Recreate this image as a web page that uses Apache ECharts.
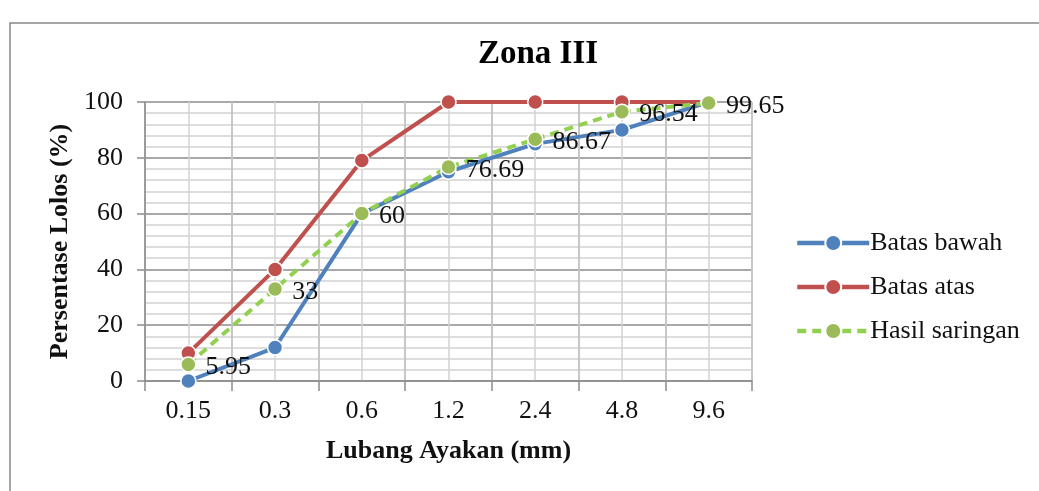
<!DOCTYPE html>
<html>
<head>
<meta charset="utf-8">
<script src="https://cdn.jsdelivr.net/npm/echarts@6/dist/echarts.min.js"></script>
<style>
  html, body { margin: 0; padding: 0; background: #fff; }
  #chart { width: 1039px; height: 491px; }
</style>
</head>
<body>
<div id="chart"></div>
<script>
// ukuran lubang ayakan (mm)
var categories = ['0.15', '0.3', '0.6', '1.2', '2.4', '4.8', '9.6'];
var batasBawah = [0, 12, 60, 75, 85, 90, 100];
var batasAtas = [10, 40, 79, 100, 100, 100, 100];
var hasilSaringan = [5.95, 33, 60, 76.69, 86.67, 96.54, 99.65];
var seriesNames = ['Batas bawah', 'Batas atas', 'Hasil saringan'];

var font = 'Liberation Serif, Times New Roman, serif';
var chart = echarts.init(document.getElementById('chart'));

function lineSeries(name, data, color, markColor, dashed) {
  return {
    name: name,
    type: 'line',
    data: data,
    symbol: 'circle',
    symbolSize: 15,
    lineStyle: { color: color, width: 4, type: dashed ? [9, 6] : 'solid' },
    itemStyle: { color: markColor, borderColor: '#fff', borderWidth: 1.5 },
    emphasis: { disabled: true }
  };
}

var s3 = lineSeries(seriesNames[2], hasilSaringan, '#92D050', '#9BBB59', true);
s3.label = {
  show: true,
  position: 'right',
  distance: 9,
  color: '#111',
  fontFamily: font,
  fontSize: 26,
  offset: [0, 3]
};

var option = {
  backgroundColor: '#fff',
  animation: false,
  graphic: [{
    type: 'polyline',
    shape: { points: [[1039, 23], [10, 23], [10, 491]] },
    style: { stroke: '#888', lineWidth: 1.5, fill: null },
    silent: true
  }],
  title: {
    text: 'Zona III',
    left: 533,
    textAlign: 'center',
    top: 33,
    textStyle: { fontFamily: font, fontSize: 33, fontWeight: 'bold', color: '#000' }
  },
  legend: {
    orient: 'vertical',
    left: 790,
    top: 225,
    itemGap: 18,
    itemWidth: 72,
    itemHeight: 20,
    data: seriesNames,
    lineStyle: { width: 4.5 },
    textStyle: { fontFamily: font, fontSize: 26, color: '#111', padding: [0, 0, 0, -4] }
  },
  grid: { left: 145, right: 287, top: 102, bottom: 110, containLabel: false },
  xAxis: [{
    type: 'category',
    data: categories,
    boundaryGap: true,
    name: 'Lubang Ayakan (mm)',
    nameLocation: 'middle',
    nameGap: 57,
    nameTextStyle: { fontFamily: font, fontSize: 26, fontWeight: 'bold', color: '#111' },
    axisLine: { lineStyle: { color: '#8c8c8c', width: 1.5 } },
    axisTick: { show: true, length: 10, lineStyle: { color: '#8c8c8c', width: 1.5 } },
    axisLabel: { fontFamily: font, fontSize: 26, color: '#111', margin: 17 },
    splitLine: { show: true, lineStyle: { color: '#8c8c8c', width: 1.5 } }
  }, {
    // garis bantu vertikal di tengah kategori
    type: 'value',
    min: 0,
    max: 14,
    interval: 1,
    position: 'bottom',
    show: true,
    axisLine: { show: false },
    axisTick: { show: false },
    axisLabel: { show: false },
    splitLine: { show: true, lineStyle: { color: '#d2d2d2', width: 1.5 } }
  }],
  yAxis: {
    type: 'value',
    min: 0,
    max: 100,
    interval: 20,
    name: 'Persentase Lolos (%)',
    nameLocation: 'middle',
    nameGap: 70,
    nameTextStyle: { fontFamily: font, fontSize: 26, fontWeight: 'bold', color: '#111' },
    axisLine: { show: true, lineStyle: { color: '#8c8c8c', width: 1.5 } },
    axisTick: { show: true, length: 8, lineStyle: { color: '#8c8c8c', width: 1.5 } },
    axisLabel: { fontFamily: font, fontSize: 26, color: '#111', margin: 22 },
    splitLine: { show: true, lineStyle: { color: '#8c8c8c', width: 1.5 } },
    minorTick: { show: false, splitNumber: 5 },
    minorSplitLine: { show: true, lineStyle: { color: '#d2d2d2', width: 1.5 } }
  },
  series: [
    lineSeries(seriesNames[0], batasBawah, '#4F81BD', '#4F81BD', false),
    lineSeries(seriesNames[1], batasAtas, '#C0504D', '#C0504D', false),
    s3
  ]
};

chart.setOption(option);
</script>
</body>
</html>
